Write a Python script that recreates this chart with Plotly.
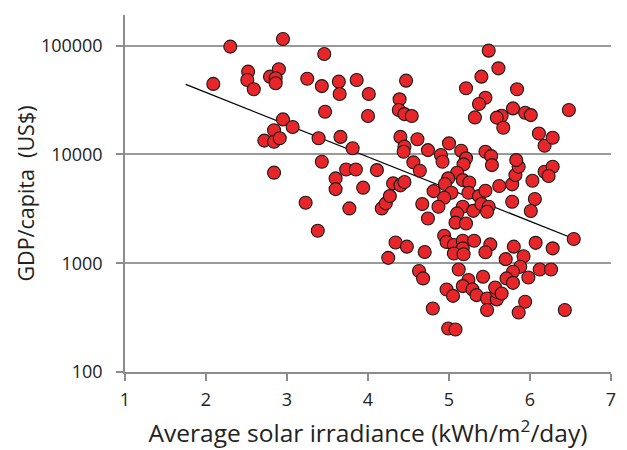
import plotly.graph_objects as go

# Average solar irradiance (kWh/m2/day)
irradiance = [
    2.30, 2.09, 2.52, 2.51, 2.59, 2.95, 2.79, 2.90, 2.86, 2.86,
    2.95, 3.07, 2.84, 2.72, 2.84, 2.91, 2.84, 3.23, 3.25, 3.46,
    3.43, 3.47, 3.39, 3.43, 3.64, 3.65, 3.86, 4.01, 4.00, 3.66,
    3.81, 3.73, 3.85, 3.60, 3.60, 3.94, 4.11, 3.77, 4.17, 4.22,
    4.27, 4.31, 4.40, 4.45, 4.47, 4.39, 4.38, 4.45, 4.54, 4.40,
    4.45, 4.44, 4.61, 4.56, 4.64, 4.74, 4.90, 4.92, 5.00, 5.15,
    5.21, 5.18, 5.10, 4.99, 4.95, 5.17, 5.25, 4.81, 5.03, 5.24,
    5.37, 5.45, 4.94, 4.67, 4.87, 5.17, 5.30, 5.40, 5.49, 5.47,
    5.10, 4.74, 5.45, 5.52, 5.53, 5.62, 5.78, 5.82, 5.86, 5.83,
    6.03, 6.06, 6.01, 5.78, 6.18, 6.28, 6.23, 6.11, 6.18, 6.28,
    5.49, 5.61, 5.40, 5.21, 5.45, 5.37, 5.32, 5.84, 5.79, 5.65,
    5.59, 5.67, 5.94, 6.01, 6.48, 3.38, 5.08, 5.21, 6.54, 4.94,
    4.97, 5.06, 5.17, 5.17, 5.06, 5.18, 5.31, 5.51, 5.45, 5.80,
    5.92, 6.07, 6.28, 5.70, 5.88, 5.79, 5.71, 5.79, 5.98, 6.12,
    6.26, 4.70, 4.34, 4.48, 4.25, 4.63, 4.68, 5.12, 5.42, 5.24,
    5.17, 5.29, 4.97, 5.05, 5.34, 5.47, 5.59, 5.59, 5.57, 5.65,
    5.47, 5.94, 5.86, 6.43, 4.80, 4.99, 5.08,
]

# GDP per capita (US$)
gdp_per_capita = [
    98000, 44500, 57700, 48300, 39700, 115000, 51900, 60700, 50100, 45100,
    21000, 17900, 16700, 13400, 13100, 14100, 6800, 3600, 49700, 83800,
    42500, 24700, 14100, 8570, 46700, 36000, 48300, 36000, 22600, 14500,
    11400, 7280, 7280, 6020, 4800, 4950, 7180, 3190, 3190, 3550,
    4140, 5420, 5200, 5580, 47700, 32100, 25600, 23500, 22600, 14500,
    11800, 10600, 13800, 8460, 7080, 10960, 9870, 8570, 12650, 10800,
    9210, 8110, 6790, 6030, 5350, 5810, 5530, 4600, 4440, 4440,
    4140, 4640, 4000, 3500, 3310, 3310, 3030, 3500, 3310, 2970,
    2870, 2580, 10600, 9660, 7980, 5120, 5310, 6460, 7710, 8870,
    5730, 3890, 3020, 3670, 6930, 7710, 6330, 15600, 12030, 14260,
    90000, 61900, 51900, 40600, 33200, 29100, 21900, 39700, 26500, 22700,
    21800, 17600, 24200, 23000, 25600, 1990, 2360, 2320, 1670, 1790,
    1570, 1470, 1610, 1370, 1230, 1210, 1610, 1490, 1260, 1420,
    1160, 1540, 1370, 1090, 927, 834, 725, 660, 740, 877,
    877, 1270, 1550, 1420, 1120, 847, 725, 877, 750, 700,
    616, 574, 574, 501, 509, 474, 465, 546, 599, 527,
    371, 442, 352, 371, 384, 251, 246,
]

# Trend line end points
trend_x = [1.75, 6.55]
trend_y = [44000, 1670]

x_ticks = [1, 2, 3, 4, 5, 6, 7]
y_ticks = [100, 1000, 10000, 100000]

font_family = "Open Sans, Liberation Sans, sans-serif"
text_color = "#222222"
axis_color = "#8c8c8c"

fig = go.Figure()

fig.add_trace(go.Scatter(
    x=trend_x, y=trend_y, mode="lines",
    line=dict(color="black", width=1.3),
    showlegend=False, hoverinfo="skip",
))

fig.add_trace(go.Scatter(
    x=irradiance, y=gdp_per_capita, mode="markers",
    marker=dict(size=13, color="#e8262a", line=dict(color="#1a1a1a", width=1.1)),
    showlegend=False,
))

fig.update_layout(
    width=627, height=450,
    margin=dict(l=125, r=16, t=15, b=78),
    paper_bgcolor="white", plot_bgcolor="white",
    font=dict(family=font_family, color=text_color),
)

fig.update_xaxes(
    range=[1, 7], automargin=False,
    tickvals=x_ticks, ticktext=[str(v) for v in x_ticks],
    showgrid=False, zeroline=False,
    showline=True, linecolor=axis_color, linewidth=1.5,
    ticks="outside", ticklen=7, tickcolor=axis_color, tickwidth=1.5,
    tickfont=dict(size=18, color=text_color),
    ticklabelstandoff=4,
    title=dict(text="Average solar irradiance (kWh/m<sup>2</sup>/day)",
               font=dict(size=24.5, color=text_color), standoff=15),
)

fig.update_yaxes(
    type="log", range=[2, 5.282], automargin=False,
    tickvals=y_ticks, ticktext=[str(v) for v in y_ticks],
    showgrid=True, gridcolor="#9a9a9a", gridwidth=1.5,
    zeroline=False,
    showline=True, linecolor=axis_color, linewidth=1.5,
    ticks="outside", ticklen=7, tickcolor=axis_color, tickwidth=1.5,
    tickfont=dict(size=18, color=text_color),
    ticklabelstandoff=10,
    title=dict(text="GDP/capita  (US$)", font=dict(size=21.5, color=text_color), standoff=0),
)

fig.write_html("out.html", config={"displayModeBar": False},
               post_script="document.body.style.margin='0';")
